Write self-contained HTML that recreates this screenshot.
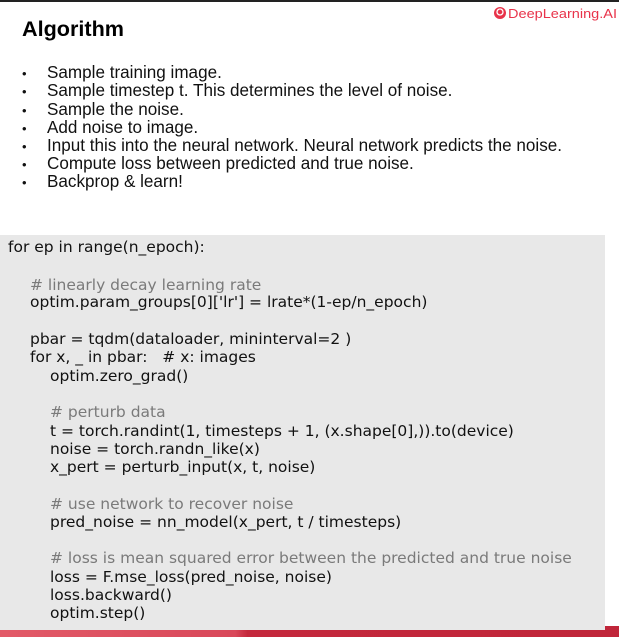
<!DOCTYPE html>
<html><head><meta charset="utf-8"><style>
html,body{margin:0;padding:0;background:#fff;width:619px;height:637px;overflow:hidden}
svg{display:block}
.b{font-family:"Liberation Sans",sans-serif;font-size:17.1px;fill:#111}
.d{font-family:"Liberation Sans",sans-serif;font-size:13px;fill:#111}
.c{font-family:"DejaVu Sans",sans-serif;font-size:15.5px;fill:#111}
.g{fill:#7a7a7a}
</style></head><body>
<svg width="619" height="637" xmlns="http://www.w3.org/2000/svg">
<defs><linearGradient id="r" x1="0" x2="1"><stop offset="0" stop-color="#e25a68"/><stop offset="0.38" stop-color="#d9485a"/><stop offset="0.4" stop-color="#c4283c"/><stop offset="1" stop-color="#c0263a"/></linearGradient></defs>
<rect x="0" y="0" width="619" height="2" fill="#222"/>
<rect x="0" y="626" width="619" height="11" fill="url(#r)"/>
<rect x="0" y="235" width="605" height="395" fill="#e8e8e8"/>
<circle cx="500" cy="13" r="6" fill="#e8334a"/><circle cx="500" cy="12" r="3" fill="none" stroke="#fff" stroke-width="1.3"/>
<text x="508" y="18" font-family="Liberation Sans,sans-serif" font-size="13" fill="#e8334a" textLength="109" lengthAdjust="spacingAndGlyphs">DeepLearning.AI</text>
<text x="22" y="36" font-family="Liberation Sans,sans-serif" font-weight="bold" font-size="21" fill="#000" textLength="102" lengthAdjust="spacingAndGlyphs">Algorithm</text>
<g class="d">
<text x="22" y="78">•</text><text x="22" y="96">•</text><text x="22" y="115">•</text><text x="22" y="133">•</text><text x="22" y="151">•</text><text x="22" y="169">•</text><text x="22" y="187">•</text>
</g>
<g class="b">
<text x="47" y="78">Sample training image.</text>
<text x="47" y="96">Sample timestep t. This determines the level of noise.</text>
<text x="47" y="115">Sample the noise.</text>
<text x="47" y="133">Add noise to image.</text>
<text x="47" y="151">Input this into the neural network. Neural network predicts the noise.</text>
<text x="47" y="169">Compute loss between predicted and true noise.</text>
<text x="47" y="187">Backprop &amp; learn!</text>
</g>
<g class="c">
<text x="8" y="252">for ep in range(n_epoch):</text>
<text x="30" y="290" class="c g"># linearly decay learning rate</text>
<text x="30" y="307">optim.param_groups[0]['lr'] = lrate*(1-ep/n_epoch)</text>
<text x="30" y="344">pbar = tqdm(dataloader, mininterval=2 )</text>
<text x="30" y="362" xml:space="preserve">for x, _ in pbar:   # x: images</text>
<text x="50" y="381">optim.zero_grad()</text>
<text x="50" y="417" class="c g"># perturb data</text>
<text x="50" y="436">t = torch.randint(1, timesteps + 1, (x.shape[0],)).to(device)</text>
<text x="50" y="454">noise = torch.randn_like(x)</text>
<text x="50" y="472">x_pert = perturb_input(x, t, noise)</text>
<text x="50" y="509" class="c g"># use network to recover noise</text>
<text x="50" y="527">pred_noise = nn_model(x_pert, t / timesteps)</text>
<text x="50" y="563" class="c g"># loss is mean squared error between the predicted and true noise</text>
<text x="50" y="582">loss = F.mse_loss(pred_noise, noise)</text>
<text x="50" y="600">loss.backward()</text>
<text x="50" y="618">optim.step()</text>
</g>
</svg>
</body></html>
